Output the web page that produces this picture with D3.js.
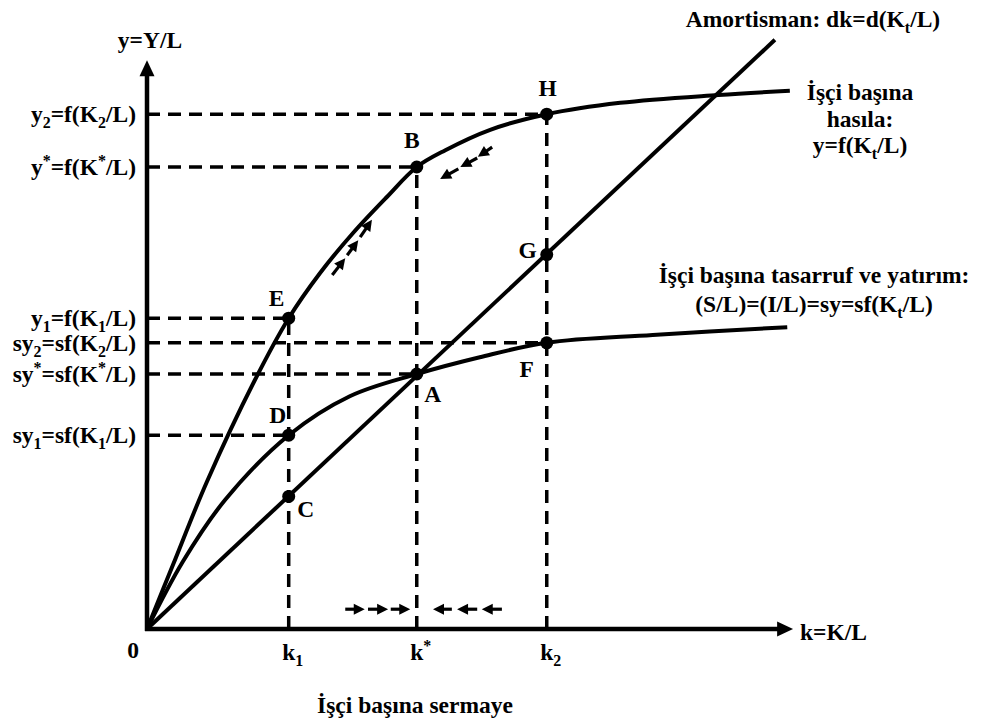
<!DOCTYPE html>
<html>
<head>
<meta charset="utf-8">
<script src="https://cdn.jsdelivr.net/npm/d3@7"></script>
<style>
  html, body { margin: 0; padding: 0; background: #fff; }
  svg text { font-family: "Liberation Serif", "Times New Roman", serif; font-weight: bold; fill: #000; }
</style>
</head>
<body>
<svg id="chart" width="983" height="722"></svg>
<script>
// ---------------- DATA ----------------
// Output per worker curve y = f(k)
const prodK = [0, 0.40, 0.92, 1.66, 2.18, 2.66, 3.17, 3.69, 4.15, 4.59, 5.28, 6.15, 7.28, 8.79, 9.89];
const prodY = [0, 1.07, 2.45, 4.15, 5.18, 5.93, 6.60, 7.20, 7.70, 7.98, 8.32, 8.58, 8.77, 8.90, 8.97];
// Saving / investment per worker curve sy = s f(k)
const savK = [0, 0.55, 1.20, 2.18, 3.12, 4.15, 5.12, 6.15, 7.78, 9.85];
const savY = [0, 1.12, 2.15, 3.23, 3.88, 4.25, 4.53, 4.77, 4.90, 5.03];
// Depreciation line dk
const depK = [0, 9.66];
const depY = [0, 9.82];

// Levels on the y axis
const levelLabels = ["y_{2}=f(K_{2}/L)", "y^{*}=f(K^{*}/L)", "y_{1}=f(K_{1}/L)",
                     "sy_{2}=sf(K_{2}/L)", "sy^{*}=sf(K^{*}/L)", "sy_{1}=sf(K_{1}/L)"];
const levelValues = [8.58, 7.70, 5.18, 4.77, 4.25, 3.23];
const levelK      = [6.15, 4.15, 2.18, 6.15, 4.15, 2.18];

// Ticks on the k axis
const kTickLabels = ["k_{1}", "k^{*}", "k_{2}"];
const kTickValues = [2.18, 4.15, 6.15];
const kTickTop    = [5.18, 7.70, 8.58];

// Named points
const pointNames = ["H", "B", "E", "G", "F", "A", "D", "C"];
const pointK     = [6.15, 4.15, 2.18, 6.15, 6.15, 4.15, 2.18, 2.18];
const pointY     = [8.58, 7.70, 5.18, 6.24, 4.77, 4.25, 3.23, 2.21];

// Small dynamic arrows (from -> to)
const arrowFromK = [3.05, 3.40, 3.75, 4.69, 5.08, 5.46, 2.85, 3.08, 3.28, 5.31, 5.08, 4.79];
const arrowFromY = [0.33, 0.33, 0.33, 0.33, 0.33, 0.33, 5.90, 6.23, 6.53, 8.03, 7.85, 7.67];
const arrowToK   = [3.35, 3.71, 4.05, 4.40, 4.77, 5.15, 3.05, 3.25, 3.46, 5.09, 4.82, 4.51];
const arrowToY   = [0.33, 0.33, 0.33, 0.33, 0.33, 0.33, 6.18, 6.48, 6.82, 7.87, 7.70, 7.50];

// Axis extents
const xAxisMax = 9.94;
const yAxisMax = 9.48;

// Texts
const yTitle = "y=Y/L";
const xTitle = "k=K/L";
const originLabel = "0";
const bottomTitle = "İşçi başına sermaye";
const depLabel = ["Amortisman: dk=d(K_{t}/L)"];
const prodLabel = ["İşçi başına", "hasıla:", "y=f(K_{t}/L)"];
const savLabel = ["İşçi başına tasarruf ve yatırım:", "(S/L)=(I/L)=sy=sf(K_{t}/L)"];

// ---------------- DRAWING ----------------
const FS = 23.5;
const svg = d3.select("#chart");
const x = d3.scaleLinear().domain([0, 10]).range([147, 797]);
const y = d3.scaleLinear().domain([0, 10]).range([629, 29]);

function rich(textSel, str, fs) {
  const parts = str.split(/(_\{[^}]*\}|\^\{[^}]*\})/).filter(s => s.length);
  let shift = 0;
  parts.forEach(p => {
    let target = 0, size = fs, t = p;
    if (p.startsWith("_{")) { target = fs * 0.26; size = fs * 0.68; t = p.slice(2, -1); }
    else if (p.startsWith("^{")) { target = -fs * 0.38; size = fs * 0.68; t = p.slice(2, -1); }
    textSel.append("tspan").attr("font-size", size).attr("dy", target - shift).text(t);
    shift = target;
  });
}
function label(str, px, py, anchor, fs) {
  const t = svg.append("text").attr("x", px).attr("y", py)
    .attr("text-anchor", anchor).attr("font-size", fs || FS);
  rich(t, str, fs || FS);
  return t;
}

// dashed guide lines
const dash = "13,8";
const gGuides = svg.append("g").attr("stroke", "#000").attr("stroke-width", 3.5)
  .attr("stroke-dasharray", dash).attr("fill", "none");
levelValues.forEach((v, i) => {
  gGuides.append("line").attr("x1", x(0)).attr("x2", x(levelK[i]))
    .attr("y1", y(v)).attr("y2", y(v));
});
kTickValues.forEach((k, i) => {
  gGuides.append("line").attr("x1", x(k)).attr("x2", x(k))
    .attr("y1", y(0)).attr("y2", y(kTickTop[i]));
});

// curves
const line = d3.line().x(d => x(d[0])).y(d => y(d[1]));
const curveStyle = sel => sel.attr("fill", "none").attr("stroke", "#000").attr("stroke-width", 4)
  .attr("stroke-linejoin", "round");
svg.append("path").datum(prodK.map((k, i) => [k, prodY[i]]))
  .attr("d", line.curve(d3.curveCatmullRom.alpha(0.5))).call(curveStyle);
svg.append("path").datum(savK.map((k, i) => [k, savY[i]]))
  .attr("d", line.curve(d3.curveCatmullRom.alpha(0.5))).call(curveStyle);
svg.append("path").datum(depK.map((k, i) => [k, depY[i]]))
  .attr("d", line.curve(d3.curveLinear)).call(curveStyle);

// arrows
function arrow(x1, y1, x2, y2, len, wid, sw, g) {
  const dx = x2 - x1, dy = y2 - y1, L = Math.hypot(dx, dy);
  const ux = dx / L, uy = dy / L;
  const bx = x2 - ux * len, by = y2 - uy * len;
  g.append("line").attr("x1", x1).attr("y1", y1).attr("x2", bx + ux * 1).attr("y2", by + uy * 1)
    .attr("stroke", "#000").attr("stroke-width", sw);
  g.append("path").attr("d",
    `M${x2},${y2} L${bx - uy * wid / 2},${by + ux * wid / 2} L${bx + uy * wid / 2},${by - ux * wid / 2} Z`)
    .attr("fill", "#000");
}
const gAxes = svg.append("g");
arrow(x(0), y(0) + 2, x(0), y(yAxisMax), 16, 15, 4.5, gAxes);
arrow(x(0) - 2, y(0), x(xAxisMax), y(0), 16, 15, 4.5, gAxes);

// small dynamic arrows
const gArr = svg.append("g");
arrowFromK.forEach((k, i) => {
  arrow(x(k), y(arrowFromY[i]), x(arrowToK[i]), y(arrowToY[i]), 11, 11, 3.2, gArr);
});

// points
svg.append("g").selectAll("circle").data(pointNames).join("circle")
  .attr("cx", (d, i) => x(pointK[i])).attr("cy", (d, i) => y(pointY[i]))
  .attr("r", 6.5).attr("fill", "#000");

// point labels (offsets in px)
const pointLabelOffset = {
  H: [1, -18], B: [-5, -19], E: [-12, -12], D: [-11, -12],
  C: [17, 21], A: [16, 28], G: [-19, 3], F: [-20, 34]
};
pointNames.forEach((n, i) => {
  const o = pointLabelOffset[n];
  label(n, x(pointK[i]) + o[0], y(pointY[i]) + o[1], "middle");
});

// y level labels
levelLabels.forEach((s, i) => label(s, 136, y(levelValues[i]) + 8, "end"));

// k tick labels
kTickLabels.forEach((s, i) => label(s, x(kTickValues[i]) + 4, 660, "middle"));

// axis titles
label(yTitle, 150, 48, "middle");
label(xTitle, 800, 640, "start");
label(originLabel, 133, 658, "middle");
label(bottomTitle, 415, 713, "middle");

// curve labels
depLabel.forEach((s, i) => label(s, 813, 27 + i * 27, "middle"));
prodLabel.forEach((s, i) => label(s, 860, 100 + i * 26.5, "middle"));
savLabel.forEach((s, i) => label(s, 814, 283 + i * 29, "middle"));
</script>
</body>
</html>
